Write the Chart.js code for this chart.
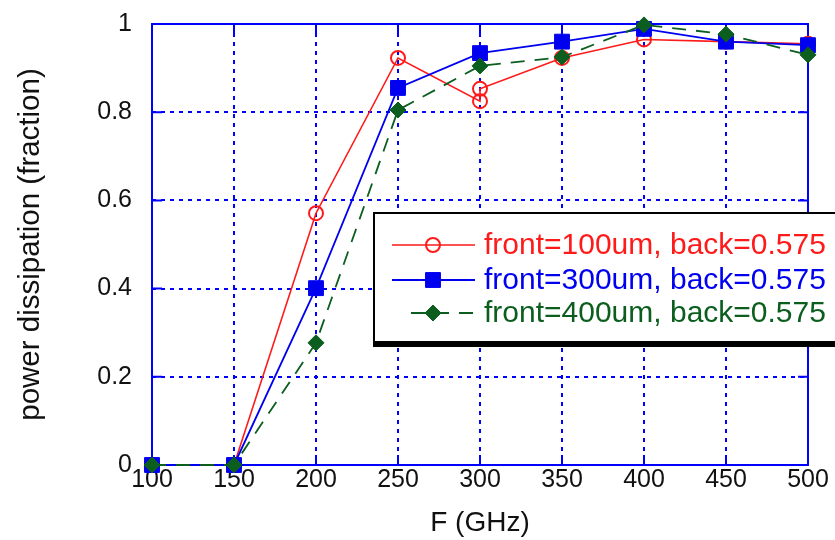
<!DOCTYPE html>
<html>
<head>
<meta charset="utf-8">
<script src="https://cdn.jsdelivr.net/npm/chart.js@4/dist/chart.umd.min.js"></script>
<style>
  html, body { margin: 0; padding: 0; background: #ffffff; }
  #wrap { width: 835px; height: 540px; position: relative; }
</style>
</head>
<body>
<div id="wrap"><canvas id="c" width="835" height="540"></canvas></div>
<script>
// ---- data ----
const freqFront100 = [100, 150, 200, 250, 300, 300, 350, 400, 450, 500];
const front100 = [0, 0, 0.571, 0.923, 0.825, 0.853, 0.923, 0.965, 0.96, 0.955];
const freq = [100, 150, 200, 250, 300, 350, 400, 450, 500];
const front300 = [0, 0, 0.401, 0.855, 0.934, 0.96, 0.989, 0.96, 0.952];
const front400 = [0, 0, 0.277, 0.805, 0.905, 0.925, 0.998, 0.977, 0.93];
const seriesLabels = ['front=100um, back=0.575', 'front=300um, back=0.575', 'front=400um, back=0.575'];
const xTicks = [100, 150, 200, 250, 300, 350, 400, 450, 500];
const yTicks = [0, 0.2, 0.4, 0.6, 0.8, 1];
const xTitle = 'F (GHz)';
const yTitle = 'power dissipation (fraction)';

const RED = '#ff1a1a', BLUE = '#0000f0', GREEN = '#0b5e1e';
const AXIS_BLUE = '#0000ff';
const tickFont = "'Liberation Sans Narrow', 'Arial Narrow', 'Liberation Sans', Arial, sans-serif";
const textFont = "'Liberation Sans', Arial, sans-serif";

const pts = (xs, ys) => xs.map((x, i) => ({x: x, y: ys[i]}));

// box, inner tick marks
const framePlugin = {
  id: 'frame',
  beforeDatasetsDraw(chart) {
    const {ctx, chartArea: a, scales} = chart;
    ctx.save();
    ctx.strokeStyle = AXIS_BLUE;
    ctx.lineWidth = 2;
    ctx.setLineDash([]);
    const L = 10;
    ctx.beginPath();
    xTicks.forEach(v => {
      const px = scales.x.getPixelForValue(v);
      ctx.moveTo(px, a.bottom); ctx.lineTo(px, a.bottom - L);
      ctx.moveTo(px, a.top); ctx.lineTo(px, a.top + L);
    });
    yTicks.forEach(v => {
      const py = scales.y.getPixelForValue(v);
      ctx.moveTo(a.left, py); ctx.lineTo(a.left + L, py);
      ctx.moveTo(a.right, py); ctx.lineTo(a.right - L, py);
    });
    ctx.stroke();
    ctx.strokeRect(a.left, a.top, a.right - a.left, a.bottom - a.top);
    ctx.restore();
  }
};

// MATLAB style legend box
const legendPlugin = {
  id: 'mlegend',
  afterDraw(chart) {
    const {ctx} = chart;
    const bx = 374, by = 213, bw = 480, bh = 129;
    ctx.save();
    ctx.fillStyle = '#000';
    ctx.fillRect(bx - 1, by + bh - 1, bw, 6);
    ctx.fillRect(bx - 1, by + 4, 3, bh);
    ctx.fillStyle = '#fff';
    ctx.fillRect(bx, by, bw, bh);
    ctx.strokeStyle = '#000';
    ctx.lineWidth = 2;
    ctx.strokeRect(bx, by, bw, bh);
    const rows = [245, 280, 313];
    chart.data.datasets.forEach((ds, i) => {
      const y = rows[i];
      ctx.strokeStyle = ds.borderColor;
      ctx.lineWidth = ds.borderWidth;
      ctx.setLineDash(ds.borderDash || []);
      ctx.beginPath();
      const x0 = ds.borderDash ? 411 : 392;
      ctx.moveTo(x0, y); ctx.lineTo(475, y);
      ctx.stroke();
      ctx.setLineDash([]);
      ctx.fillStyle = ds.pointBackgroundColor;
      ctx.strokeStyle = ds.pointBorderColor;
      ctx.lineWidth = ds.pointBorderWidth || 1;
      Chart.helpers.drawPoint(ctx, {
        pointStyle: ds.pointStyle,
        radius: ds.pointRadius,
        borderWidth: ds.pointBorderWidth || 1,
        rotation: 0
      }, 433, y);
      ctx.fillStyle = ds.borderColor;
      ctx.font = "30px " + textFont;
      ctx.textBaseline = 'middle';
      ctx.textAlign = 'left';
      ctx.fillText(ds.label, 484, y + 1);
    });
    ctx.restore();
  }
};

new Chart(document.getElementById('c'), {
  type: 'line',
  data: {
    datasets: [
      {
        label: seriesLabels[0],
        data: pts(freqFront100, front100),
        borderColor: RED, backgroundColor: RED,
        borderWidth: 1.6,
        pointStyle: 'circle', pointRadius: 7,
        pointBackgroundColor: 'rgba(255,255,255,0)', pointBorderColor: RED, pointBorderWidth: 2,
        order: 3, clip: false
      },
      {
        label: seriesLabels[1],
        data: pts(freq, front300),
        borderColor: BLUE, backgroundColor: BLUE,
        borderWidth: 1.8,
        pointStyle: 'rect', pointRadius: 10.5,
        pointBackgroundColor: BLUE, pointBorderColor: BLUE, pointBorderWidth: 1,
        order: 2, clip: false
      },
      {
        label: seriesLabels[2],
        data: pts(freq, front400),
        borderColor: GREEN, backgroundColor: GREEN,
        borderWidth: 1.8, borderDash: [14, 10],
        pointStyle: 'rectRot', pointRadius: 8,
        pointBackgroundColor: GREEN, pointBorderColor: GREEN, pointBorderWidth: 1,
        order: 1, clip: false
      }
    ]
  },
  options: {
    responsive: false,
    animation: false,
    devicePixelRatio: 1,
    layout: { padding: { top: 24, right: 27, left: 0, bottom: 0 } },
    plugins: { legend: { display: false }, tooltip: { enabled: false } },
    elements: { line: { tension: 0 } },
    scales: {
      x: {
        type: 'linear', min: 100, max: 500,
        afterFit: s => { s.height = 75; s.paddingLeft = 0; s.paddingRight = 0; },
        afterBuildTicks: s => { s.ticks = xTicks.map(v => ({value: v})); },
        ticks: { color: '#111', padding: 3, font: { family: tickFont, size: 25, lineHeight: 1 }, maxRotation: 0, autoSkip: false },
        grid: { color: AXIS_BLUE, lineWidth: 2, drawTicks: false },
        border: { display: false, dash: [4, 5] },
        title: { display: true, text: xTitle, color: '#111', font: { family: textFont, size: 28, lineHeight: 1 }, padding: { top: 0, bottom: 3 } }
      },
      y: {
        type: 'linear', min: 0, max: 1,
        afterFit: s => { s.width = 152; s.paddingTop = 0; s.paddingBottom = 0; },
        afterBuildTicks: s => { s.ticks = yTicks.map(v => ({value: v})); },
        ticks: { color: '#111', padding: 20, font: { family: tickFont, size: 25, lineHeight: 1 },
          callback: v => String(Math.round(v * 10) / 10) },
        grid: { color: AXIS_BLUE, lineWidth: 2, drawTicks: false },
        border: { display: false, dash: [4, 5] },
        title: { display: true, text: yTitle, color: '#111', font: { family: textFont, size: 29.5, lineHeight: 1 }, padding: { top: 16, bottom: 0 } }
      }
    }
  },
  plugins: [framePlugin, legendPlugin]
});
</script>
</body>
</html>
